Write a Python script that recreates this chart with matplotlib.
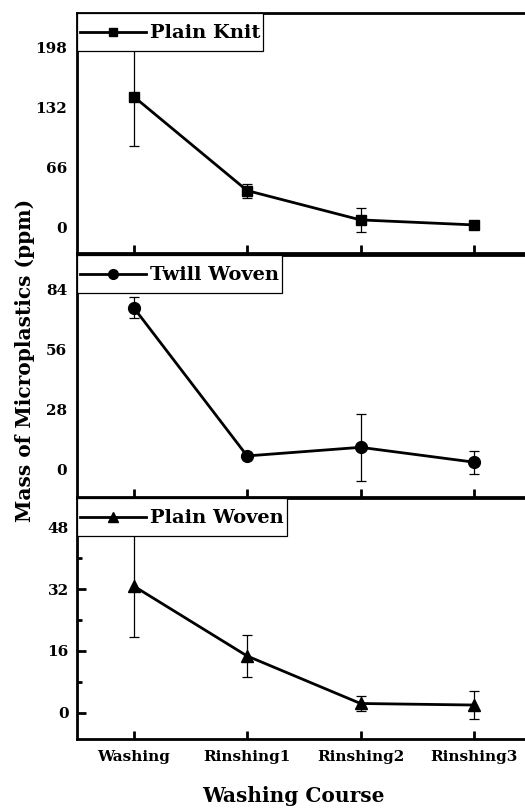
import numpy as np
import matplotlib.pyplot as plt
from matplotlib.lines import Line2D
from matplotlib.legend_handler import HandlerLine2D
from matplotlib.ticker import MultipleLocator

plt.rcParams['font.family'] = 'DejaVu Serif'
plt.rcParams['font.weight'] = 'bold'

# washing steps on the x axis
courses = ["Washing", "Rinshing1", "Rinshing2", "Rinshing3"]

# mean mass (ppm) and error for each fabric
knit_mean = [144.2, 41.0, 8.8, 3.3]
knit_err = [53.8, 7.7, 13.5, 1.5]

twill_mean = [75.5, 6.5, 10.5, 3.6]
twill_err = [5.0, 0.5, 15.5, 5.4]

woven_mean = [32.8, 14.7, 2.4, 2.0]
woven_err = [13.3, 5.5, 2.0, 3.6]

panels = [
    ("Plain Knit", knit_mean, knit_err, "s", 7.5, (-27.5, 236), [0, 66, 132, 198], None),
    ("Twill Woven", twill_mean, twill_err, "o", 8.5, (-12.6, 100), [0, 28, 56, 84], None),
    ("Plain Woven", woven_mean, woven_err, "^", 8.5, (-6.8, 55.6), [0, 16, 32, 48], 8),
]


# legend line sits a bit lower, level with the text
class LowLine(HandlerLine2D):
    def create_artists(self, legend, orig_handle, xdescent, ydescent,
                       width, height, fontsize, trans):
        return super().create_artists(legend, orig_handle, xdescent, ydescent + 7,
                                      width, height, fontsize, trans)


fig = plt.figure(figsize=(5.25, 8.09), dpi=100)
boxes = [(0.6873, 0.2967), (0.3857, 0.2991), (0.0865, 0.2979)]

x = np.arange(1, len(courses) + 1)
axes = []
for (name, mean, err, mk, ms, ylim, yt, minor), (b, h) in zip(panels, boxes):
    ax = fig.add_axes([0.1467, b, 0.864, h])
    ax.errorbar(x, mean, yerr=err, color="black", marker=mk, markersize=ms,
                linewidth=2.0, elinewidth=0.9, capsize=3.5, capthick=0.9)
    ax.set_xlim(0.5, 4.5)
    ax.set_ylim(*ylim)
    ax.set_yticks(yt)
    for s in ax.spines.values():
        s.set_linewidth(2.0)
    ax.tick_params(axis="x", direction="in", length=6, width=2, pad=8)
    if minor:
        ax.yaxis.set_minor_locator(MultipleLocator(minor))
        ax.tick_params(axis="y", which="major", direction="in", length=6.5, width=2, pad=6)
        ax.tick_params(axis="y", which="minor", direction="in", length=3.5, width=2)
    else:
        ax.tick_params(axis="y", length=0, pad=7)
    ax.tick_params(labelsize=11)
    handle = Line2D([], [], color="black", marker=mk, markersize=ms - 1.5, linewidth=2.0)
    leg = ax.legend([handle], [name], loc="upper left", bbox_to_anchor=(0, 1),
                    borderaxespad=0, fancybox=False, edgecolor="black",
                    framealpha=1, fontsize=14, handlelength=3.4,
                    handletextpad=0.2, borderpad=0.15, handleheight=2.15,
                    handler_map={Line2D: LowLine()})
    leg.get_frame().set_linewidth(0.9)
    axes.append(ax)

for ax in axes[:2]:
    ax.set_xticks(x)
    ax.set_xticklabels([])
axes[2].set_xticks(x)
axes[2].set_xticklabels(courses)
axes[2].set_xlabel("Washing Course", fontsize=14.5, fontweight="bold")
axes[2].xaxis.set_label_coords(0.478, -0.195)

fig.text(0.047, 0.554, "Mass of Microplastics (ppm)", rotation=90,
         ha="center", va="center", fontsize=14.5, fontweight="bold")

fig.savefig("out.png", dpi=100)
